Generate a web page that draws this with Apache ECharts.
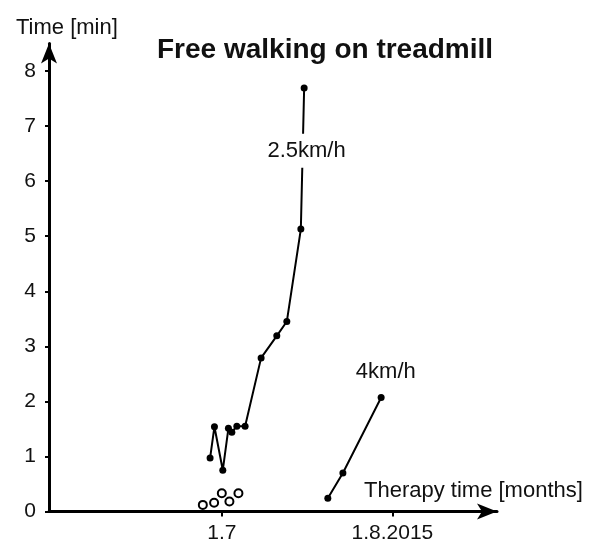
<!DOCTYPE html>
<html>
<head>
<meta charset="utf-8">
<script src="https://cdn.jsdelivr.net/npm/echarts@6/dist/echarts.min.js"></script>
<style>
html, body { margin: 0; padding: 0; background: #fff; }
#chart { width: 595px; height: 547px; }
</style>
</head>
<body>
<div id="chart"></div>
<script>
// x values are days counted from 1 July 2015
const slowDays = [-2.13, -1.34, 0.18, 1.20, 1.82, 2.73, 4.23, 7.14, 9.99, 11.81, 14.36, 14.96];
const slowMin  = [0.97, 1.54, 0.75, 1.51, 1.44, 1.55, 1.55, 2.79, 3.19, 3.45, 5.13, 7.69];
const openDays = [-3.45, -1.40, 0.0, 1.38, 3.02];
const openMin  = [0.12, 0.16, 0.33, 0.18, 0.33];
const fastDays = [19.26, 22.0, 28.95];
const fastMin  = [0.24, 0.70, 2.07];
const xTicks = [0, 31];
const xTickLabels = ['1.7', '1.8.2015'];
const yTicks = [0, 1, 2, 3, 4, 5, 6, 7, 8];
const seriesLabels = [['2.5km/h', 15.4, 6.55], ['4km/h', 29.8, 2.53]];

const font = 'Liberation Sans, Arial, sans-serif';
const pairs = (xs, ys) => xs.map((x, i) => [x, ys[i]]);

const chart = echarts.init(document.getElementById('chart'));
const option = {
    backgroundColor: '#fff',
    animation: false,
    title: [
        { text: 'Free walking on treadmill', left: 152, top: 31,
          textStyle: { fontFamily: font, fontSize: 28, fontWeight: 'bold', color: '#111' } },
        { text: 'Time [min]', left: 11, top: 12,
          textStyle: { fontFamily: font, fontSize: 22, fontWeight: 'normal', color: '#111' } },
        { text: 'Therapy time [months]', left: 359, top: 475,
          textStyle: { fontFamily: font, fontSize: 22, fontWeight: 'normal', color: '#111' } }
    ],
    grid: { left: 49, right: 98, top: 43.5, bottom: 35.5 },
    xAxis: {
        type: 'value',
        min: -31.4,
        max: 50,
        splitLine: { show: false },
        axisLine: { onZero: false, lineStyle: { color: '#000', width: 3 }, symbol: ['none', 'arrow'], symbolSize: [12, 20] },
        axisTick: { show: true, length: 5, lineStyle: { color: '#000', width: 2 }, customValues: xTicks },
        axisLabel: {
            customValues: xTicks,
            margin: 11,
            fontFamily: font, fontSize: 21, color: '#111',
            formatter: v => xTickLabels[xTicks.indexOf(v)] || ''
        }
    },
    yAxis: {
        type: 'value',
        min: 0,
        max: 8.5,
        splitLine: { show: false },
        axisLine: { onZero: false, lineStyle: { color: '#000', width: 3 }, symbol: ['none', 'arrow'], symbolSize: [12, 20] },
        axisTick: { show: true, length: 4, lineStyle: { color: '#000', width: 2 }, customValues: yTicks },
        axisLabel: { customValues: yTicks, margin: 13, fontFamily: font, fontSize: 21, color: '#111' }
    },
    series: [
        {
            name: '2.5km/h', type: 'line', data: pairs(slowDays, slowMin),
            symbol: 'circle', symbolSize: 7,
            lineStyle: { color: '#000', width: 2 }, itemStyle: { color: '#000' }
        },
        {
            name: 'open', type: 'scatter', data: pairs(openDays, openMin),
            symbol: 'circle', symbolSize: 8,
            itemStyle: { color: '#fff', borderColor: '#000', borderWidth: 2, opacity: 1 }
        },
        {
            name: '4km/h', type: 'line', data: pairs(fastDays, fastMin),
            symbol: 'circle', symbolSize: 7,
            lineStyle: { color: '#000', width: 2 }, itemStyle: { color: '#000' }
        },
        {
            name: 'labels', type: 'scatter', symbolSize: 0, z: 5,
            itemStyle: { opacity: 1 },
            data: seriesLabels.map(l => ({ value: [l[1], l[2]], name: l[0] })),
            label: {
                show: true, position: 'inside', formatter: p => p.name,
                fontFamily: font, fontSize: 22, color: '#111', opacity: 1,
                textBorderWidth: 0, backgroundColor: '#fff', padding: [6, 2]
            }
        }
    ]
};
chart.setOption(option);
</script>
</body>
</html>
